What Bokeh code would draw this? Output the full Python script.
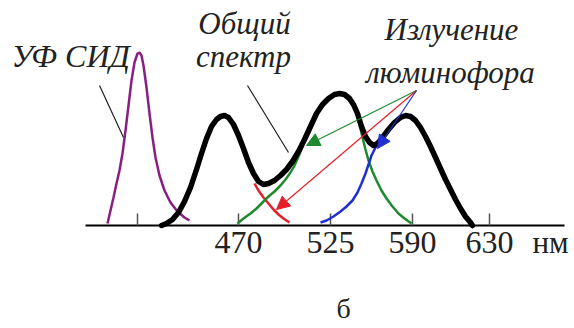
from bokeh.plotting import figure
from bokeh.models import Range1d, Label, Arrow, NormalHead
from bokeh.core.properties import value
from bokeh.embed import file_html
from bokeh.resources import INLINE

# ---- data (x: position along the axis, y: relative intensity) ----
tick_pos = [137, 238, 330, 412, 489]
tick_labels = ["", "470", "525", "590", "630"]
axis_unit = "нм"
panel_label = "б"

uv_x = [107, 110, 113, 116, 119, 122, 125, 128, 131, 134, 137, 139, 141, 143, 146, 149, 152, 155, 159, 164, 170, 177, 184, 189]
uv_y = [2, 15, 28, 42, 55, 72, 95, 120, 145, 163, 172, 173, 170, 160, 138, 112, 88, 68, 50, 35, 23, 14, 8, 5]

total_x = [161, 166, 172, 178, 184, 190, 196, 201, 206, 211, 216, 220, 224, 228, 233, 238, 243, 248, 253, 258,
           263, 268, 274, 280, 286, 292, 298, 304, 310, 316, 322, 328, 334, 339, 344, 349, 353, 357, 361, 365,
           369, 373, 377, 382, 388, 394, 400, 405, 410, 415, 420, 425, 430, 435, 440, 445, 450, 455, 460, 465, 470, 472]
total_y = [0, 2, 6, 13, 24, 38, 56, 72, 87, 99, 106, 109, 110, 108, 101, 90, 77, 63, 52, 44,
           41, 42, 45, 50, 56, 64, 74, 86, 99, 112, 121, 127, 131, 132, 131, 127, 121, 112, 99, 89,
           83, 80, 82, 88, 96, 103, 108, 110, 109, 105, 98, 89, 79, 68, 57, 46, 36, 26, 17, 9, 3, 0]

red_x = [254, 258, 263, 268, 273, 278, 283, 289]
red_y = [42, 35, 28, 22, 16, 11, 7, 3]

green1_x = [237, 243, 250, 256, 262, 268, 274, 280, 285, 290, 294, 298, 302, 306, 310, 313]
green1_y = [2, 7, 12, 17, 23, 29, 34, 40, 46, 53, 60, 69, 79, 90, 100, 108]

green2_x = [353, 356, 359, 362, 365, 368, 372, 376, 381, 386, 392, 398, 404, 411]
green2_y = [121, 112, 101, 88, 76, 65, 54, 45, 35, 27, 19, 12, 7, 2]

blue_x = [320, 326, 333, 340, 346, 352, 357, 361, 365, 368, 371, 375, 380, 386, 392, 398, 403]
blue_y = [3, 5, 9, 14, 19, 25, 33, 42, 52, 61, 70, 78, 86, 94, 101, 106, 110]

arrow_x0 = [416, 416, 416]
arrow_y0 = [135, 135, 135]
arrow_x1 = [306, 276, 377]
arrow_y1 = [80, 16, 77]
arrow_colors = ["#1e8a2e", "#e5202a", "#1f2fd0"]

leader_x0 = [99, 247]
leader_y0 = [140, 140]
leader_x1 = [123, 288]
leader_y1 = [88, 73]

axis_x = [85, 564]

# ---- figure: the frame covers the whole canvas ----
p = figure(width=574, height=328, output_backend="svg", toolbar_location=None,
           x_range=Range1d(0, 574), y_range=Range1d(-103, 225),
           min_border=0, min_border_left=0, min_border_right=0,
           min_border_top=0, min_border_bottom=0,
           background_fill_color="white", border_fill_color="white", outline_line_color=None)
p.axis.visible = False
p.grid.visible = False

# axis line, ticks and tick labels
p.line(axis_x, [0, 0], line_color="black", line_width=2)
p.segment(tick_pos, [0] * len(tick_pos), tick_pos, [12] * len(tick_pos),
          line_color="#555555", line_width=1.5)
p.text(tick_pos, [-17] * len(tick_pos), text=tick_labels,
       text_font=value("Liberation Serif"), text_font_size=value("32px"),
       text_color="#222222", text_align="center", text_baseline="alphabetic")

p.line(uv_x, uv_y, line_color="#8a1f82", line_width=2.5)
p.line(red_x, red_y, line_color="#e5202a", line_width=2.5)
p.line(green1_x, green1_y, line_color="#1e8a2e", line_width=2.5)
p.line(green2_x, green2_y, line_color="#1e8a2e", line_width=2.5)
p.line(blue_x, blue_y, line_color="#1f2fd0", line_width=2.5)
p.line(total_x, total_y, line_color="black", line_width=5.5, line_join="round", line_cap="round")

p.segment(leader_x0, leader_y0, leader_x1, leader_y1, line_color="#222222", line_width=1.2)

for xs, ys, xe, ye, c in zip(arrow_x0, arrow_y0, arrow_x1, arrow_y1, arrow_colors):
    p.add_layout(Arrow(end=NormalHead(size=13, fill_color=c, line_color=c),
                       x_start=xs, y_start=ys, x_end=xe, y_end=ye,
                       line_color=c, line_width=1.2))

def lab(text, x, y, size, italic=True, align="center"):
    p.add_layout(Label(x=x, y=y, text=text, text_font="Liberation Serif",
                       text_font_style="italic" if italic else "normal",
                       text_font_size=size, text_color="#222222",
                       text_align=align, text_baseline="alphabetic"))

lab("УФ СИД", 11, 170, "32px", align="left")
lab("Общий", 244, 202, "31px")
lab("спектр", 243, 169, "31px")
lab("Излучение", 451, 196, "31px")
lab("люминофора", 450, 153, "31px")
lab(axis_unit, 550, -17, "31px", italic=False)
lab(panel_label, 343, -83, "28px", italic=False)

open("out.html", "w").write(file_html(p, INLINE))
